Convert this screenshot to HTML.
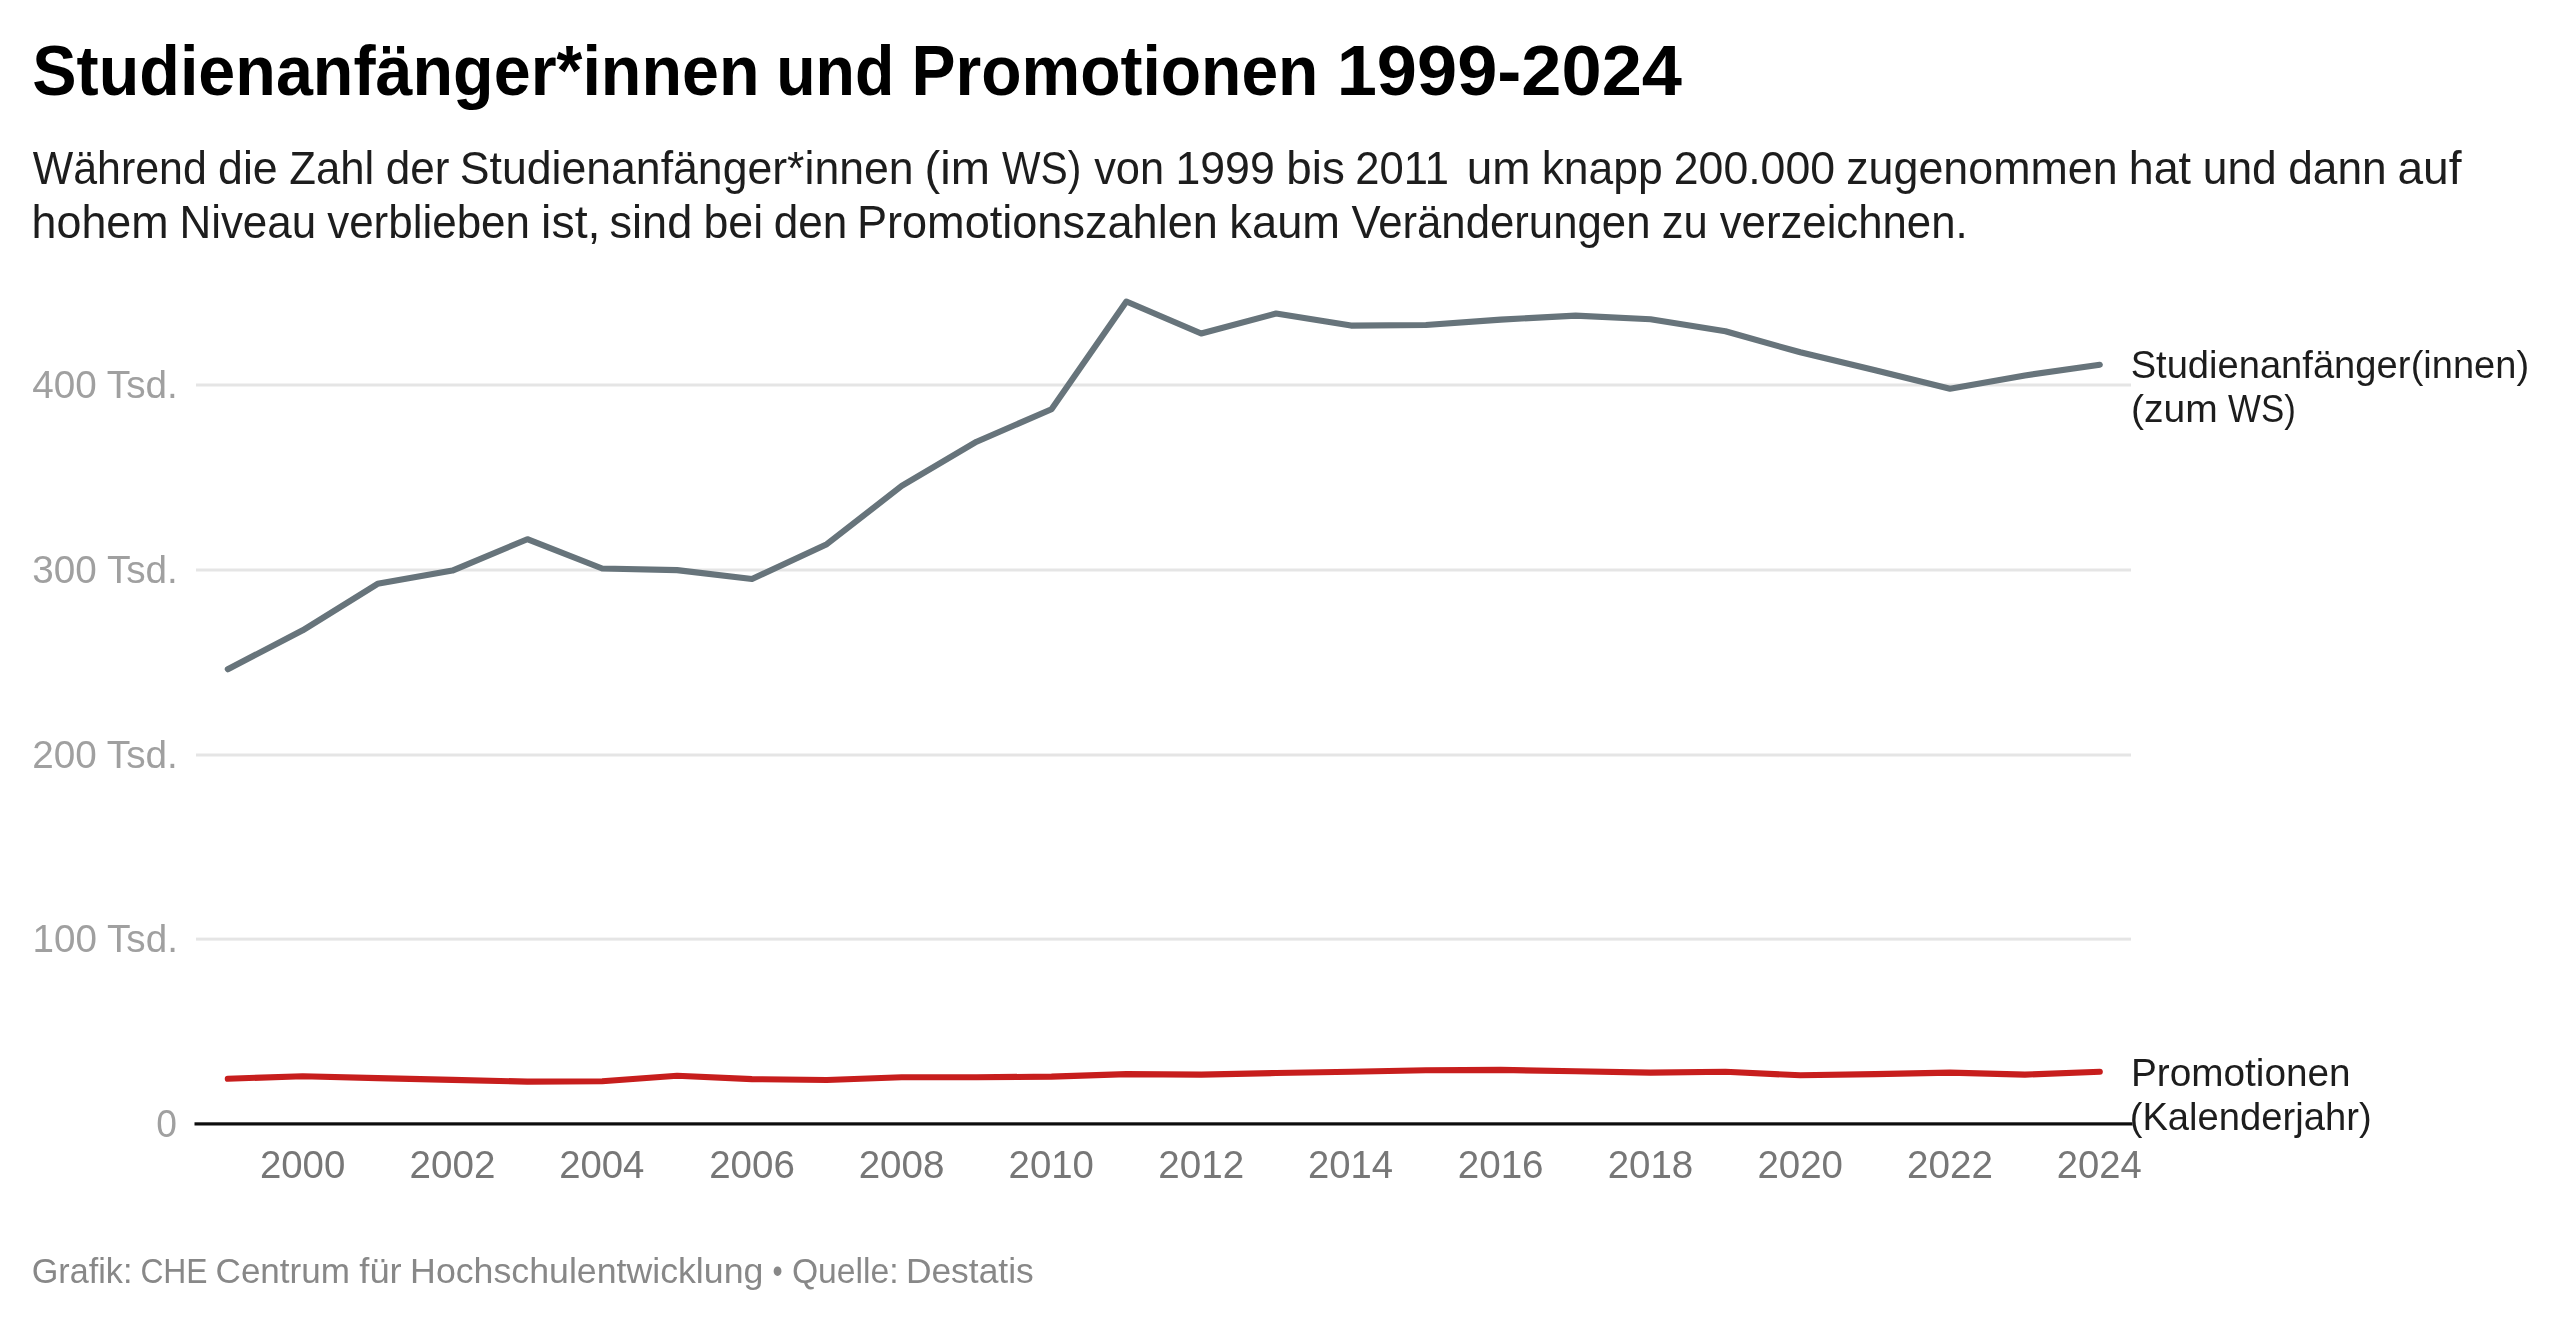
<!DOCTYPE html>
<html lang="de"><head><meta charset="utf-8"><title>Studienanfänger*innen und Promotionen 1999-2024</title>
<style>
html,body{margin:0;padding:0;background:#fff;width:2560px;height:1324px;overflow:hidden;}
svg{display:block;will-change:transform;}
text{font-family:"Liberation Sans",sans-serif;}
</style></head>
<body>
<svg width="2560" height="1324" viewBox="0 0 2560 1324" font-family="'Liberation Sans', sans-serif">
<rect width="2560" height="1324" fill="#fff"/>
<rect x="196" y="383.50" width="1935" height="3.0" fill="#e5e5e5"/>
<rect x="196" y="568.50" width="1935" height="3.0" fill="#e5e5e5"/>
<rect x="196" y="753.50" width="1935" height="3.0" fill="#e5e5e5"/>
<rect x="196" y="937.60" width="1935" height="3.0" fill="#e5e5e5"/>
<rect x="194.5" y="1122.3" width="1938" height="3.2" fill="#0d0d0d"/>
<polyline points="227.8,669.2 302.7,630.3 377.6,583.8 452.4,570.6 527.3,539.2 602.2,568.5 677.1,570.1 752.0,579.0 826.8,544.2 901.7,485.9 976.6,441.7 1051.5,409.2 1126.4,301.5 1201.2,333.5 1276.1,313.5 1351.0,325.6 1425.9,325.0 1500.8,319.6 1575.6,315.6 1650.5,319.2 1725.4,331.3 1800.3,352.3 1875.2,370.2 1950.0,388.7 2024.9,375.4 2099.8,364.7" fill="none" stroke="#67747b" stroke-width="6.1" stroke-linejoin="round" stroke-linecap="round"/>
<polyline points="227.8,1078.8 302.7,1076.2 377.6,1078.1 452.4,1079.9 527.3,1081.6 602.2,1081.3 677.1,1075.8 752.0,1079.1 826.8,1080.0 901.7,1077.3 976.6,1077.3 1051.5,1076.6 1126.4,1074.1 1201.2,1074.6 1276.1,1073.0 1351.0,1071.8 1425.9,1070.3 1500.8,1069.9 1575.6,1071.3 1650.5,1072.6 1725.4,1071.8 1800.3,1075.3 1875.2,1074.1 1950.0,1072.6 2024.9,1074.6 2099.8,1071.7" fill="none" stroke="#c71e1d" stroke-width="6.1" stroke-linejoin="round" stroke-linecap="round"/>
<text x="32.25" y="95.00" font-size="71.30" fill="#000" font-weight="700" textLength="727.34" lengthAdjust="spacingAndGlyphs">Studienanfänger*innen</text>
<text x="776.15" y="95.00" font-size="71.30" fill="#000" font-weight="700" textLength="118.16" lengthAdjust="spacingAndGlyphs">und</text>
<text x="911.51" y="95.00" font-size="71.30" fill="#000" font-weight="700" textLength="406.91" lengthAdjust="spacingAndGlyphs">Promotionen</text>
<text x="1336.70" y="95.00" font-size="71.30" fill="#000" font-weight="700" textLength="345.32" lengthAdjust="spacingAndGlyphs">1999-2024</text>
<text x="32.78" y="184.00" font-size="45.60" fill="#1d1d1d" textLength="174.06" lengthAdjust="spacingAndGlyphs">Während</text>
<text x="218.09" y="184.00" font-size="45.60" fill="#1d1d1d" textLength="59.57" lengthAdjust="spacingAndGlyphs">die</text>
<text x="289.21" y="184.00" font-size="45.60" fill="#1d1d1d" textLength="84.99" lengthAdjust="spacingAndGlyphs">Zahl</text>
<text x="385.74" y="184.00" font-size="45.60" fill="#1d1d1d" textLength="63.71" lengthAdjust="spacingAndGlyphs">der</text>
<text x="459.76" y="184.00" font-size="45.60" fill="#1d1d1d" textLength="453.87" lengthAdjust="spacingAndGlyphs">Studienanfänger*innen</text>
<text x="924.60" y="184.00" font-size="45.60" fill="#1d1d1d" textLength="65.40" lengthAdjust="spacingAndGlyphs">(im</text>
<text x="1001.99" y="184.00" font-size="45.60" fill="#1d1d1d" textLength="79.25" lengthAdjust="spacingAndGlyphs">WS)</text>
<text x="1094.14" y="184.00" font-size="45.60" fill="#1d1d1d" textLength="69.98" lengthAdjust="spacingAndGlyphs">von</text>
<text x="1175.43" y="184.00" font-size="45.60" fill="#1d1d1d" textLength="99.28" lengthAdjust="spacingAndGlyphs">1999</text>
<text x="1286.31" y="184.00" font-size="45.60" fill="#1d1d1d" textLength="58.45" lengthAdjust="spacingAndGlyphs">bis</text>
<text x="1355.29" y="184.00" font-size="45.60" fill="#1d1d1d" textLength="93.62" lengthAdjust="spacingAndGlyphs">2011</text>
<text x="1466.66" y="184.00" font-size="45.60" fill="#1d1d1d" textLength="63.78" lengthAdjust="spacingAndGlyphs">um</text>
<text x="1541.63" y="184.00" font-size="45.60" fill="#1d1d1d" textLength="121.16" lengthAdjust="spacingAndGlyphs">knapp</text>
<text x="1673.77" y="184.00" font-size="45.60" fill="#1d1d1d" textLength="161.24" lengthAdjust="spacingAndGlyphs">200.000</text>
<text x="1846.16" y="184.00" font-size="45.60" fill="#1d1d1d" textLength="271.50" lengthAdjust="spacingAndGlyphs">zugenommen</text>
<text x="2128.74" y="184.00" font-size="45.60" fill="#1d1d1d" textLength="62.30" lengthAdjust="spacingAndGlyphs">hat</text>
<text x="2202.78" y="184.00" font-size="45.60" fill="#1d1d1d" textLength="74.00" lengthAdjust="spacingAndGlyphs">und</text>
<text x="2288.21" y="184.00" font-size="45.60" fill="#1d1d1d" textLength="98.49" lengthAdjust="spacingAndGlyphs">dann</text>
<text x="2397.42" y="184.00" font-size="45.60" fill="#1d1d1d" textLength="64.12" lengthAdjust="spacingAndGlyphs">auf</text>
<text x="31.59" y="238.00" font-size="45.60" fill="#1d1d1d" textLength="137.03" lengthAdjust="spacingAndGlyphs">hohem</text>
<text x="179.42" y="238.00" font-size="45.60" fill="#1d1d1d" textLength="136.77" lengthAdjust="spacingAndGlyphs">Niveau</text>
<text x="327.19" y="238.00" font-size="45.60" fill="#1d1d1d" textLength="202.81" lengthAdjust="spacingAndGlyphs">verblieben</text>
<text x="541.08" y="238.00" font-size="45.60" fill="#1d1d1d" textLength="59.41" lengthAdjust="spacingAndGlyphs">ist,</text>
<text x="609.53" y="238.00" font-size="45.60" fill="#1d1d1d" textLength="82.78" lengthAdjust="spacingAndGlyphs">sind</text>
<text x="703.43" y="238.00" font-size="45.60" fill="#1d1d1d" textLength="59.67" lengthAdjust="spacingAndGlyphs">bei</text>
<text x="773.71" y="238.00" font-size="45.60" fill="#1d1d1d" textLength="73.62" lengthAdjust="spacingAndGlyphs">den</text>
<text x="856.95" y="238.00" font-size="45.60" fill="#1d1d1d" textLength="360.94" lengthAdjust="spacingAndGlyphs">Promotionszahlen</text>
<text x="1229.36" y="238.00" font-size="45.60" fill="#1d1d1d" textLength="110.61" lengthAdjust="spacingAndGlyphs">kaum</text>
<text x="1351.41" y="238.00" font-size="45.60" fill="#1d1d1d" textLength="299.07" lengthAdjust="spacingAndGlyphs">Veränderungen</text>
<text x="1661.70" y="238.00" font-size="45.60" fill="#1d1d1d" textLength="46.02" lengthAdjust="spacingAndGlyphs">zu</text>
<text x="1719.69" y="238.00" font-size="45.60" fill="#1d1d1d" textLength="247.99" lengthAdjust="spacingAndGlyphs">verzeichnen.</text>
<text x="32.34" y="397.70" font-size="39.60" fill="#a0a0a0" textLength="145.43" lengthAdjust="spacingAndGlyphs">400 Tsd.</text>
<text x="32.27" y="582.70" font-size="39.60" fill="#a0a0a0" textLength="145.59" lengthAdjust="spacingAndGlyphs">300 Tsd.</text>
<text x="32.19" y="767.80" font-size="39.60" fill="#a0a0a0" textLength="145.60" lengthAdjust="spacingAndGlyphs">200 Tsd.</text>
<text x="32.58" y="951.70" font-size="39.60" fill="#a0a0a0" textLength="145.31" lengthAdjust="spacingAndGlyphs">100 Tsd.</text>
<text x="302.56" y="1178.00" font-size="39.60" fill="#777777" textLength="85.34" lengthAdjust="spacingAndGlyphs" text-anchor="middle">2000</text>
<text x="452.44" y="1178.00" font-size="39.60" fill="#777777" textLength="85.86" lengthAdjust="spacingAndGlyphs" text-anchor="middle">2002</text>
<text x="601.79" y="1178.00" font-size="39.60" fill="#777777" textLength="85.18" lengthAdjust="spacingAndGlyphs" text-anchor="middle">2004</text>
<text x="752.00" y="1178.00" font-size="39.60" fill="#777777" textLength="85.67" lengthAdjust="spacingAndGlyphs" text-anchor="middle">2006</text>
<text x="901.53" y="1178.00" font-size="39.60" fill="#777777" textLength="85.69" lengthAdjust="spacingAndGlyphs" text-anchor="middle">2008</text>
<text x="1051.23" y="1178.00" font-size="39.60" fill="#777777" textLength="85.34" lengthAdjust="spacingAndGlyphs" text-anchor="middle">2010</text>
<text x="1201.19" y="1178.00" font-size="39.60" fill="#777777" textLength="85.83" lengthAdjust="spacingAndGlyphs" text-anchor="middle">2012</text>
<text x="1350.57" y="1178.00" font-size="39.60" fill="#777777" textLength="85.08" lengthAdjust="spacingAndGlyphs" text-anchor="middle">2014</text>
<text x="1500.64" y="1178.00" font-size="39.60" fill="#777777" textLength="85.88" lengthAdjust="spacingAndGlyphs" text-anchor="middle">2016</text>
<text x="1650.46" y="1178.00" font-size="39.60" fill="#777777" textLength="85.54" lengthAdjust="spacingAndGlyphs" text-anchor="middle">2018</text>
<text x="1800.16" y="1178.00" font-size="39.60" fill="#777777" textLength="85.56" lengthAdjust="spacingAndGlyphs" text-anchor="middle">2020</text>
<text x="1949.95" y="1178.00" font-size="39.60" fill="#777777" textLength="85.88" lengthAdjust="spacingAndGlyphs" text-anchor="middle">2022</text>
<text x="2099.31" y="1178.00" font-size="39.60" fill="#777777" textLength="84.97" lengthAdjust="spacingAndGlyphs" text-anchor="middle">2024</text>
<text x="2130.66" y="378.00" font-size="39.60" fill="#1d1d1d" textLength="279.71" lengthAdjust="spacingAndGlyphs">Studienanfänger</text>
<text x="2410.70" y="378.00" font-size="39.60" fill="#1d1d1d" textLength="118.37" lengthAdjust="spacingAndGlyphs">(innen)</text>
<text x="2130.94" y="422.00" font-size="39.60" fill="#1d1d1d" textLength="86.76" lengthAdjust="spacingAndGlyphs">(zum</text>
<text x="2228.10" y="422.00" font-size="39.60" fill="#1d1d1d" textLength="67.83" lengthAdjust="spacingAndGlyphs">WS)</text>
<text x="2131.05" y="1086.00" font-size="39.60" fill="#1d1d1d" textLength="219.49" lengthAdjust="spacingAndGlyphs">Promotionen</text>
<text x="2129.67" y="1130.00" font-size="39.60" fill="#1d1d1d" textLength="242.07" lengthAdjust="spacingAndGlyphs">(Kalenderjahr)</text>
<text x="31.70" y="1283.00" font-size="35.60" fill="#888888" textLength="100.72" lengthAdjust="spacingAndGlyphs">Grafik:</text>
<text x="140.39" y="1283.00" font-size="35.60" fill="#888888" textLength="67.22" lengthAdjust="spacingAndGlyphs">CHE</text>
<text x="215.60" y="1283.00" font-size="35.60" fill="#888888" textLength="134.29" lengthAdjust="spacingAndGlyphs">Centrum</text>
<text x="359.35" y="1283.00" font-size="35.60" fill="#888888" textLength="42.37" lengthAdjust="spacingAndGlyphs">für</text>
<text x="410.14" y="1283.00" font-size="35.60" fill="#888888" textLength="353.23" lengthAdjust="spacingAndGlyphs">Hochschulentwicklung</text>
<text x="772.52" y="1283.00" font-size="35.60" fill="#888888" textLength="10.12" lengthAdjust="spacingAndGlyphs">•</text>
<text x="791.89" y="1283.00" font-size="35.60" fill="#888888" textLength="106.76" lengthAdjust="spacingAndGlyphs">Quelle:</text>
<text x="905.89" y="1283.00" font-size="35.60" fill="#888888" textLength="127.85" lengthAdjust="spacingAndGlyphs">Destatis</text>
<text x="156.20" y="1137.00" font-size="39.60" fill="#a0a0a0" textLength="20.68" lengthAdjust="spacingAndGlyphs">0</text>
</svg>
</body></html>
